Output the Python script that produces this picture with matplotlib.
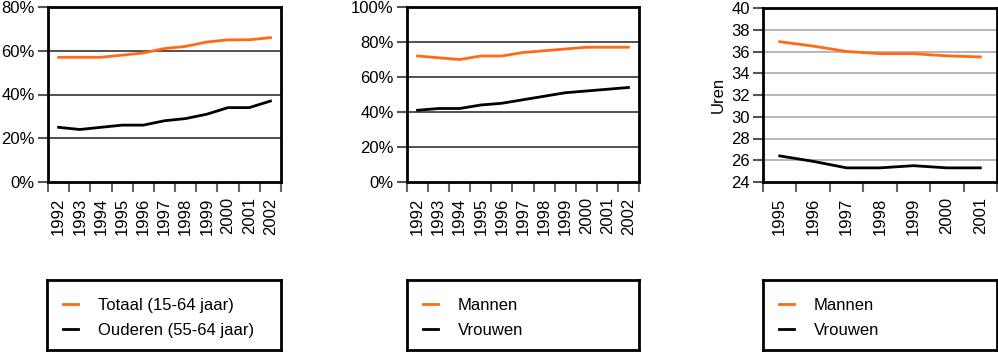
import matplotlib
matplotlib.use("Agg")
import matplotlib.pyplot as plt
from matplotlib.ticker import FixedLocator, FuncFormatter

plt.rcParams['font.family'] = ['Liberation Sans', 'DejaVu Sans']

years_a = ["1992", "1993", "1994", "1995", "1996", "1997", "1998", "1999", "2000", "2001", "2002"]
totaal = [57, 57, 57, 58, 59, 61, 62, 64, 65, 65, 66]
ouderen = [25, 24, 25, 26, 26, 28, 29, 31, 34, 34, 37]

mannen_pct = [72, 71, 70, 72, 72, 74, 75, 76, 77, 77, 77]
vrouwen_pct = [41, 42, 42, 44, 45, 47, 49, 51, 52, 53, 54]

years_c = ["1995", "1996", "1997", "1998", "1999", "2000", "2001"]
mannen_uren = [36.9, 36.5, 36.0, 35.8, 35.8, 35.6, 35.5]
vrouwen_uren = [26.4, 25.9, 25.3, 25.3, 25.5, 25.3, 25.3]

W, H = 998, 353
ORANGE = "#FF6A13"
FS = 12

fig = plt.figure(figsize=(W / 100, H / 100), dpi=100)


def px_axes(left, top, right, bottom):
    return fig.add_axes([left / W, 1 - bottom / H, (right - left) / W, (bottom - top) / H])


def setup(ax, cats, ylim, yticks, fmt, gridcolor):
    n = len(cats)
    ax.set_xlim(-0.5, n - 0.5)
    ax.set_ylim(*ylim)
    ax.xaxis.set_major_locator(FixedLocator(list(range(n))))
    ax.set_xticklabels(cats, rotation=90, fontsize=FS)
    ax.xaxis.set_minor_locator(FixedLocator([i - 0.5 for i in range(n + 1)]))
    ax.tick_params(axis='x', which='major', length=0, pad=11)
    ax.tick_params(axis='x', which='minor', length=7.5, width=1.5, color="#666666")
    ax.set_yticks(yticks)
    ax.yaxis.set_major_formatter(FuncFormatter(fmt))
    ax.tick_params(axis='y', length=7.5, width=1.5, color="#555555", labelsize=FS, pad=2)
    for y in yticks[1:-1]:
        ax.axhline(y, color=gridcolor, lw=1.2, zorder=1)
    for s in ax.spines.values():
        s.set_linewidth(2)
        s.set_color("black")


def legend_box(left, right, handles, labels):
    bax = px_axes(left, 280, right, 350)
    bax.set_xticks([])
    bax.set_yticks([])
    for s in bax.spines.values():
        s.set_linewidth(2)
    bax.legend(handles, labels, loc='upper left', frameon=False, fontsize=FS,
               handlelength=0.9, handletextpad=1.2, labelspacing=0.6,
               bbox_to_anchor=(0.04, 0.84), borderaxespad=0)


pct = lambda v, p: f"{int(v)}%"
num = lambda v, p: f"{int(v)}"

# Panel 1
ax1 = px_axes(48, 7, 281, 182)
setup(ax1, years_a, (0, 80), [0, 20, 40, 60, 80], pct, "#333333")
x = list(range(len(years_a)))
l1, = ax1.plot(x, totaal, color=ORANGE, lw=2, zorder=3)
l2, = ax1.plot(x, ouderen, color="black", lw=2, zorder=3)
legend_box(47, 281, [l1, l2], ["Totaal (15-64 jaar)", "Ouderen (55-64 jaar)"])

# Panel 2
ax2 = px_axes(407, 7, 639, 182)
setup(ax2, years_a, (0, 100), [0, 20, 40, 60, 80, 100], pct, "#333333")
m1, = ax2.plot(x, mannen_pct, color=ORANGE, lw=2, zorder=3)
m2, = ax2.plot(x, vrouwen_pct, color="black", lw=2, zorder=3)
legend_box(407, 639, [m1, m2], ["Mannen", "Vrouwen"])

# Panel 3
ax3 = px_axes(763, 8, 997, 182)
setup(ax3, years_c, (24, 40), list(range(24, 41, 2)), num, "#AAAAAA")
xc = list(range(len(years_c)))
u1, = ax3.plot(xc, mannen_uren, color=ORANGE, lw=2, zorder=3)
u2, = ax3.plot(xc, vrouwen_uren, color="black", lw=2, zorder=3)
ax3.set_ylabel("Uren", fontsize=FS, labelpad=4)
legend_box(763, 997, [u1, u2], ["Mannen", "Vrouwen"])

fig.savefig("out.png", dpi=100)
